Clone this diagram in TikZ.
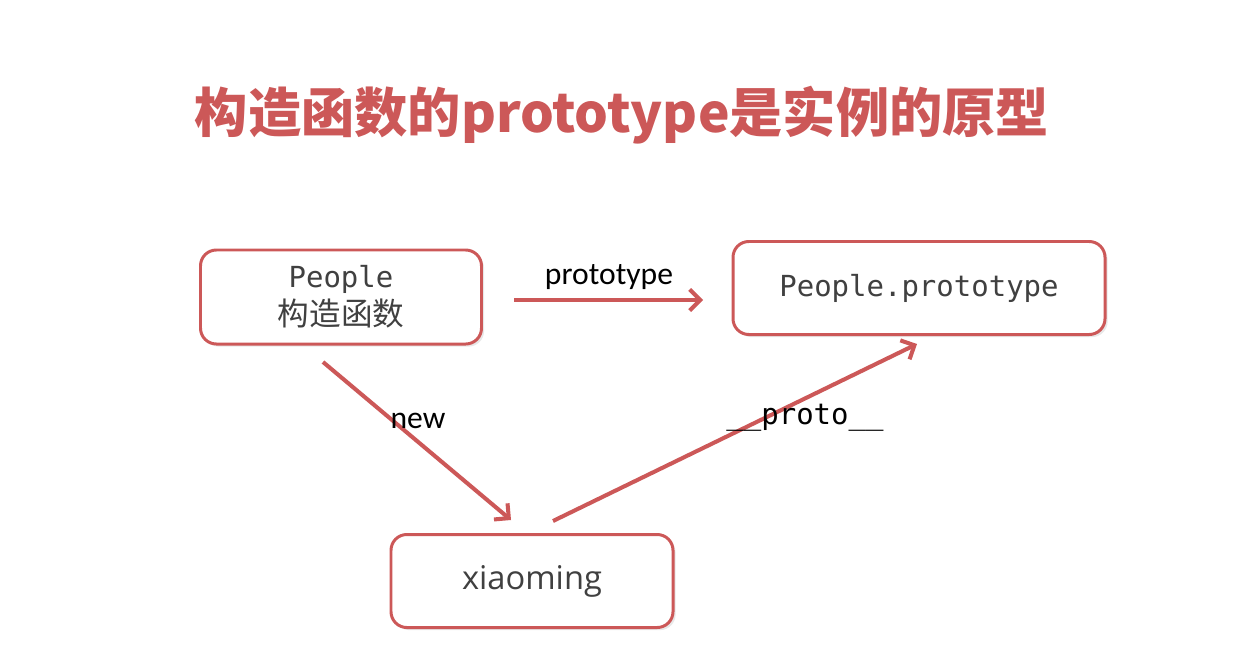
\documentclass[tikz,border=0pt]{standalone}
\usepackage{fontspec}
\usetikzlibrary{arrows.meta,positioning,shadows}
\newfontfamily\cjk{Noto Sans CJK SC}
\newfontfamily\monofont{DejaVu Sans Mono}
\newfontfamily\uifont{Open Sans}
\newfontfamily\labelfont{Carlito}
\definecolor{slidered}{RGB}{204,88,88}
\definecolor{boxtext}{RGB}{64,64,64}

\tikzset{
  box/.style={draw=slidered, line width=1.7pt, rounded corners=9pt, fill=white,
    drop shadow={opacity=0.18, shadow xshift=1.5pt, shadow yshift=-1.5pt},
    text=boxtext, align=center, inner sep=0pt},
  link/.style={draw=slidered, line width=2.3pt, -{Straight Barb[length=6pt,width=12pt,line width=2.3pt]}},
  linklabel/.style={font=\labelfont\fontsize{18}{21}\selectfont, text=black}
}

\begin{document}
\begin{tikzpicture}[x=0.02cm, y=-0.02cm]
  \useasboundingbox (0,0) rectangle (1248,660);

  % Title
  \node[text=slidered, font=\cjk\bfseries\fontsize{30.3}{34}\selectfont] (title) at (622,115)
    {构造函数的prototype是实例的原型};

  % Boxes
  \node[box, minimum width=281*0.02cm, minimum height=94*0.02cm] (people) at (341,297)
    {{\monofont\fontsize{16.5}{20}\selectfont People}\\[2pt]{\cjk\fontsize{18}{22}\selectfont 构造函数}};
  \node[box, minimum width=372*0.02cm, minimum height=93*0.02cm] (proto) at (919,288)
    {\monofont\fontsize{16.5}{20}\selectfont People.prototype};
  \node[box, minimum width=282*0.02cm, minimum height=93*0.02cm] (xiaoming) at (532,581)
    {\uifont\fontsize{18.6}{22}\selectfont xiaoming};

  % Arrows
  \coordinate (p1) at (514,300);
  \coordinate (p2) at (703,300);
  \draw[link] (p1) -- (p2);
  \node[linklabel] (protolbl) at (609,277) {prototype};

  \coordinate (n1) at (323,362);
  \coordinate (n2) at (511,520);
  \draw[link] (n1) -- (n2);
  \node[linklabel] (newlbl) at (418,421) {new};

  \coordinate (x1) at (553,521);
  \coordinate (x2) at (917,344);
  \draw[link] (x1) -- (x2);
  \node[font=\monofont\fontsize{16.5}{20}\selectfont] (dunderlbl) at (805,418) {\_\_proto\_\_};
\end{tikzpicture}
\end{document}
